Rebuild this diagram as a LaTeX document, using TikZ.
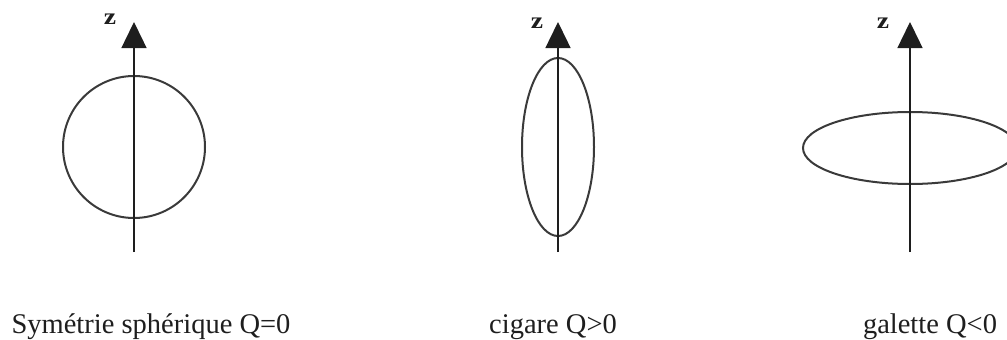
\documentclass[tikz,border=0pt]{standalone}
\usepackage{fontspec}
\setmainfont{Liberation Serif}
\usetikzlibrary{arrows.meta}
\definecolor{ink}{HTML}{1E1E1E}
\definecolor{curve}{HTML}{3A3A3A}
\tikzset{
  axis/.style={draw=ink, line width=1.4pt, -{Triangle[width=25pt,length=26pt]}},
  shapeline/.style={draw=curve, line width=2pt},
  zlabel/.style={font=\bfseries\fontsize{23}{23}\selectfont, text=ink, inner sep=0pt, anchor=center, xscale=1.2},
  caption/.style={font=\fontsize{28.5}{30}\selectfont, text=ink, inner sep=0pt, anchor=base}
}
\begin{document}
\begin{tikzpicture}[x=1pt,y=-1pt]
\useasboundingbox (0,0) rectangle (1007,340);
% axis 1
\coordinate (b1) at (134,252);
\coordinate (t1) at (134,22);
\coordinate (c1) at (134,147);
\draw[shapeline] (c1) circle[radius=71];
\draw[axis] (b1) -- (t1);
\node[zlabel] (z1) at (110,19) {z};
% axis 2
\coordinate (b2) at (558,252);
\coordinate (t2) at (558,22);
\coordinate (c2) at (558,147);
\draw[shapeline] (c2) ellipse[x radius=36, y radius=89];
\draw[axis] (b2) -- (t2);
\node[zlabel] (z2) at (537,23) {z};
% axis 3
\coordinate (b3) at (910,252);
\coordinate (t3) at (910,22);
\coordinate (c3) at (910,148);
\draw[shapeline] (c3) ellipse[x radius=107, y radius=36];
\draw[axis] (b3) -- (t3);
\node[zlabel] (z3) at (883,23) {z};
% captions
\node[caption] (cap1) at (151,333) {Symétrie sphérique Q=0};
\node[caption] (cap2) at (553,333) {cigare Q>0};
\node[caption] (cap3) at (930,333) {galette Q<0};
\end{tikzpicture}
\end{document}
